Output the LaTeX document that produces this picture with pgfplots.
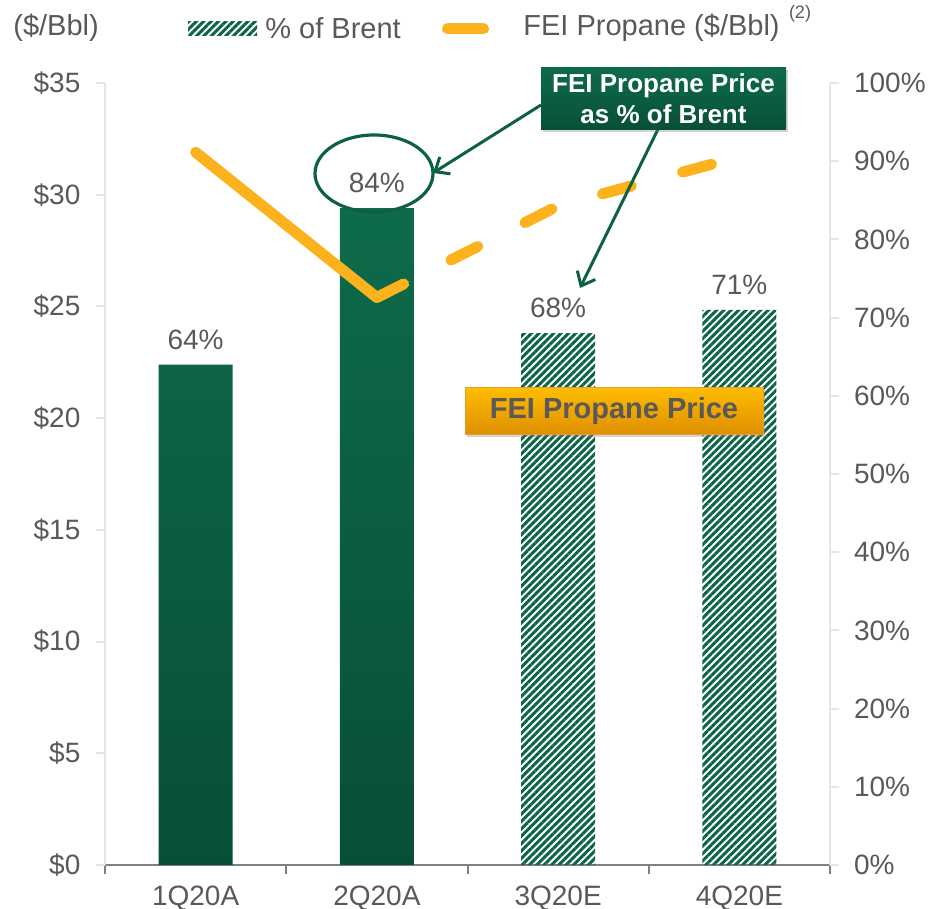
\documentclass[border=0pt]{standalone}
\usepackage{pgfplots}
\pgfplotsset{compat=1.18}
\usepackage{fontspec}
\setmainfont{Liberation Sans}
\usetikzlibrary{patterns.meta,arrows.meta,shadows}
\definecolor{txt}{RGB}{89,89,89}
\definecolor{gtop}{RGB}{13,107,74}
\definecolor{gbot}{RGB}{8,79,55}
\definecolor{hatch}{RGB}{12,100,70}
\definecolor{orng}{RGB}{252,178,28}
\definecolor{anng}{RGB}{14,96,66}
\definecolor{otop}{RGB}{255,188,0}
\definecolor{obot}{RGB}{222,142,0}
\definecolor{axg}{RGB}{128,128,128}
\begin{document}
\begin{tikzpicture}[font=\fontsize{14}{16.8}\selectfont]
\useasboundingbox (-52.5pt,-22pt) rectangle (414pt,432.5pt);
\pgfplotsset{
  base/.style={
    width=362.5pt, height=391pt, scale only axis,
    xmin=-0.5, xmax=3.5, clip=false,
    tick label style={font=\fontsize{14}{16.8}\selectfont, text=txt},
    /pgf/number format/assume math mode=true,
    tick align=outside,
  }
}
\begin{axis}[base,
  ymin=0, ymax=100,
  axis x line*=bottom, axis y line*=right,
  x axis line style={draw=axg, line width=1pt, -},
  y axis line style={draw=gray!20, line width=1pt, -},
  xtick={-0.5,0.5,1.5,2.5,3.5},
  xticklabels={1Q20A,2Q20A,3Q20E,4Q20E,},
  xticklabel style={xshift=45.3125pt, yshift=-2.3pt},
  xtick style={draw=axg, line width=1pt},
  major tick length=4.5pt,
  ytick={0,10,...,100},
  yticklabel={\pgfmathprintnumber{\tick}\%},
  yticklabel style={xshift=4pt},
  ytick style={draw=gray!20, line width=1pt},
  ybar, bar width=37pt, bar shift=0pt,
  nodes near coords={\pgfmathprintnumber{\pgfplotspointmeta}\%},
  nodes near coords style={font=\fontsize{14}{16.8}\selectfont, text=txt, yshift=4pt},
]
\addplot[draw=none, top color=gtop, bottom color=gbot] coordinates {(0,64) (1,84)};
\addplot[draw=none, pattern={Lines[angle=45,distance=2.6pt,line width=1.5pt]}, pattern color=hatch] coordinates {(2,68) (3,71)};
\end{axis}
\begin{axis}[base,
  ymin=0, ymax=35,
  axis x line=none, axis y line*=left,
  y axis line style={draw=gray!20, line width=1pt, -},
  ytick={0,5,...,35},
  yticklabel={\$\pgfmathprintnumber{\tick}},
  yticklabel style={xshift=-4.3pt},
  ytick style={draw=gray!20, line width=1pt},
  major tick length=4.5pt,
]
\addplot[orng, line width=5.5pt, line cap=round, line join=round] coordinates {(0,31.9) (1,25.4)};
\addplot[orng, line width=5.5pt, line cap=round, line join=round, dash pattern=on 15pt off 26.5pt] coordinates {(1,25.4) (2,29.5) (3,31.7)};
\end{axis}
% annotations
\draw[anng, line width=1.6pt] (134.5pt,345.75pt) ellipse [x radius=29.5pt, y radius=19.25pt];
\draw[anng, line width=1.5pt, -{Straight Barb[length=6pt,width=10pt]}] (218pt,380pt) -- (164pt,346pt);
\draw[anng, line width=1.5pt, -{Straight Barb[length=6pt,width=10pt]}] (280pt,375pt) -- (237.5pt,288.5pt);
\node[top color=gtop, bottom color=gbot, minimum width=122.5pt, minimum height=31pt, inner sep=0pt,
  drop shadow={opacity=0.35, shadow xshift=1pt, shadow yshift=-1.2pt}, align=center, text=white,
  font=\bfseries\fontsize{13}{15.5}\selectfont] at (279.25pt,383pt) {FEI Propane Price\\as \% of Brent};
\node[top color=otop, bottom color=obot, draw=obot!85!white, line width=0.5pt, minimum width=149pt, minimum height=23.5pt, inner sep=0pt,
  drop shadow={opacity=0.35, shadow xshift=1pt, shadow yshift=-1.2pt}, text=txt,
  font=\bfseries\fontsize{14.5}{17}\selectfont] at (254.5pt,226.75pt) {FEI Propane Price};
% legend
\fill[pattern={Lines[angle=45,distance=2.6pt,line width=1.5pt]}, pattern color=hatch] (41.5pt,414.5pt) rectangle (76pt,421.5pt);
\node[anchor=west, inner sep=0pt, text=txt, font=\fontsize{14.5}{17}\selectfont] at (80pt,418.5pt) {\% of Brent};
\draw[orng, line width=5.5pt, line cap=round] (171.25pt,418pt) -- (189.25pt,418pt);
\node[anchor=west, inner sep=0pt, text=txt, font=\fontsize{14.5}{17}\selectfont] at (209pt,418.5pt) {FEI Propane (\$/Bbl)};
\node[text=txt, font=\fontsize{9}{10}\selectfont, inner sep=0pt] at (347.5pt,425.75pt) {(2)};
\node[anchor=west, inner sep=0pt, text=txt, font=\fontsize{14.5}{17}\selectfont] at (-46pt,418.5pt) {(\$/Bbl)};
\end{tikzpicture}
\end{document}
